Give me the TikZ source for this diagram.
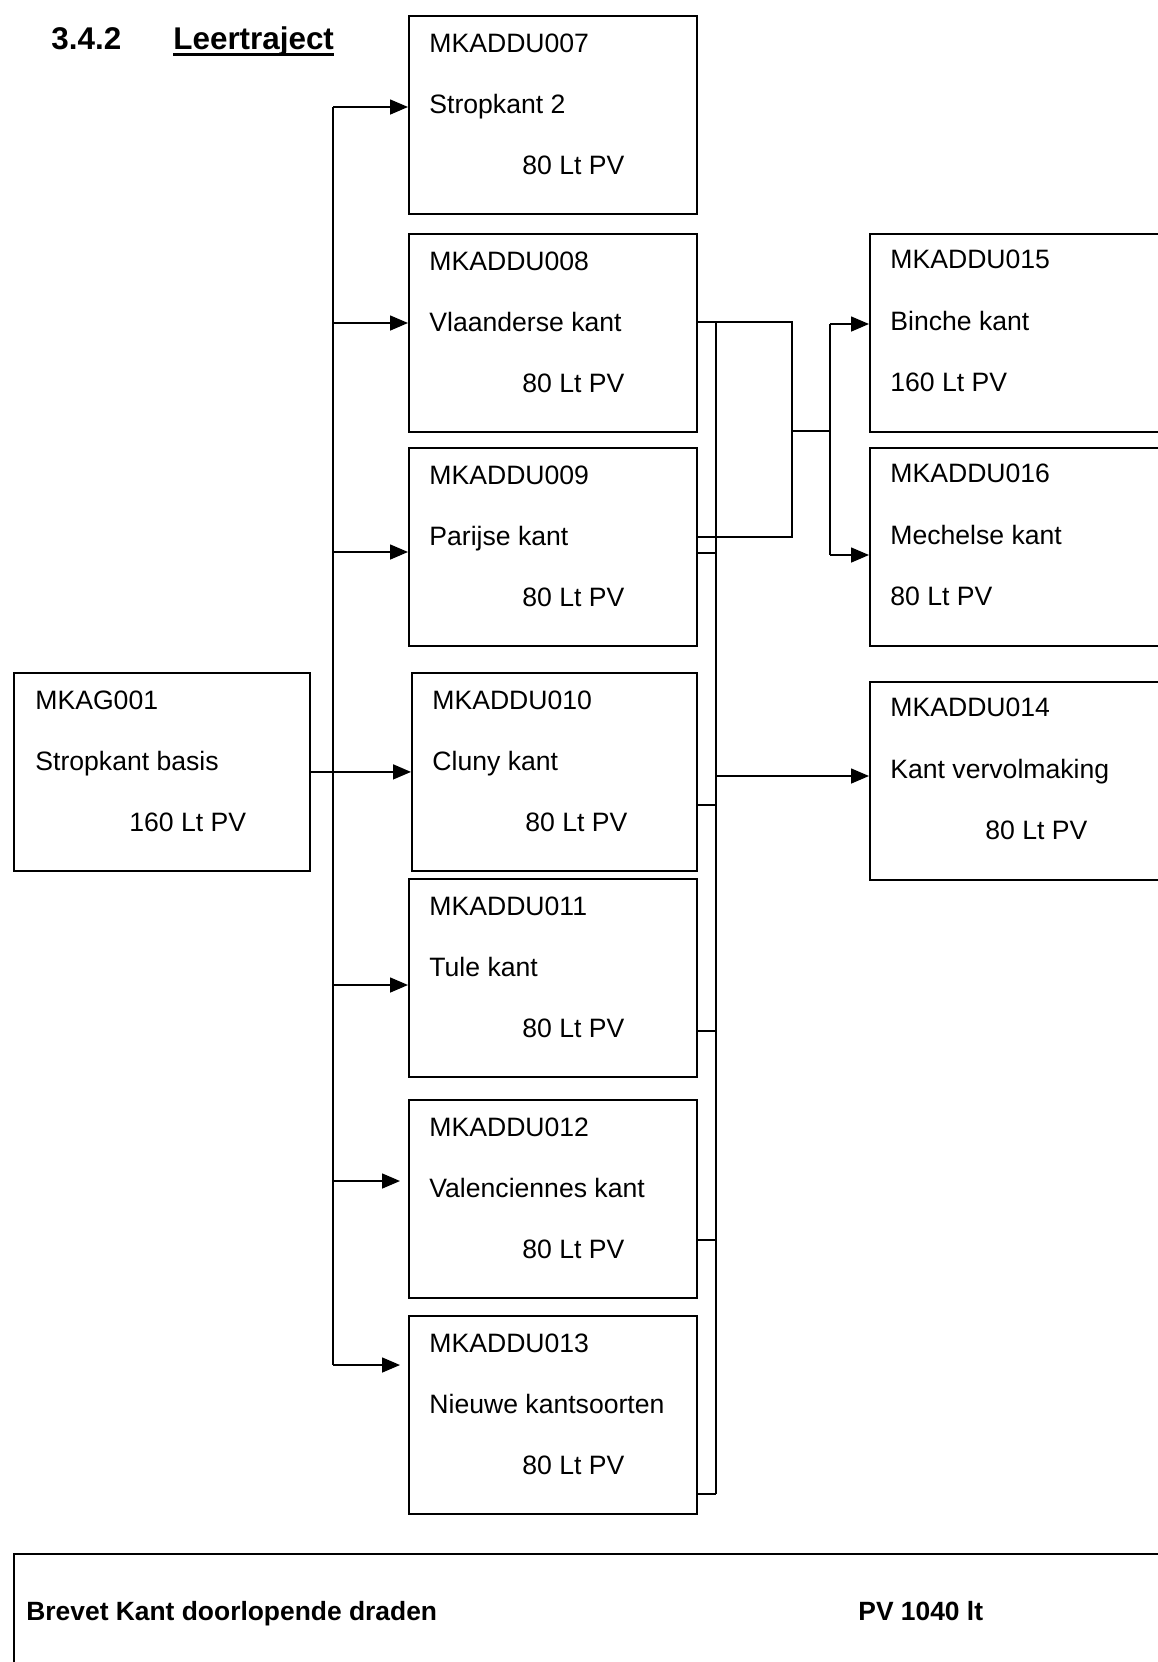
\documentclass[tikz,border=0pt]{standalone}
\usepackage{fontspec}
\setmainfont{Liberation Sans}
\usetikzlibrary{arrows.meta}

\begin{document}
\begin{tikzpicture}[x=0.5pt,y=-0.5pt,
    kbox/.style={draw,line width=0.9pt,anchor=north west,inner sep=0pt,
      minimum width=144pt,minimum height=99pt},
    txt/.style={anchor=base west,inner sep=0pt,font=\fontsize{13.3}{16}\selectfont},
    head/.style={anchor=base west,inner sep=0pt,font=\fontsize{15.7}{19}\selectfont\bfseries},
    btxt/.style={anchor=base west,inner sep=0pt,font=\fontsize{13.2}{16}\selectfont\bfseries},
    link/.style={line width=0.8pt},
    arr/.style={line width=0.8pt,-{Triangle[length=9pt,width=7.5pt]}}]
  \clip (0,0) rectangle (1158,1662);

  % title
  \node[head] (num) at (51,49) {3.4.2};
  \node[head] (lt) at (173,49) {Leertraject};
  \draw[line width=1.2pt] ([yshift=-2.8pt]lt.base west) -- ([yshift=-2.8pt]lt.base east);

  % boxes
  \node[kbox,minimum width=148pt] (g001) at (13,672) {};
  \node[kbox] (b007) at (408,15) {};
  \node[kbox] (b008) at (408,233) {};
  \node[kbox] (b009) at (408,447) {};
  \node[kbox,minimum width=142.5pt] (b010) at (411,672) {};
  \node[kbox] (b011) at (408,878) {};
  \node[kbox] (b012) at (408,1099) {};
  \node[kbox] (b013) at (408,1315) {};
  \node[kbox,minimum width=170pt] (b015) at (869,233) {};
  \node[kbox,minimum width=170pt] (b016) at (869,447) {};
  \node[kbox,minimum width=170pt] (b014) at (869,681) {};
  \node[kbox,minimum width=600pt,minimum height=80pt] (brevet) at (13,1553) {};

  % texts
  \node[txt] (cg001) at ([shift={(22,37)}]g001.north west) {MKAG001};
  \node[txt] (ng001) at ([shift={(22,98)}]g001.north west) {Stropkant basis};
  \node[txt] (pg001) at ([shift={(116,159)}]g001.north west) {160 Lt PV};

  \node[txt] (c007) at ([shift={(21,37)}]b007.north west) {MKADDU007};
  \node[txt] (n007) at ([shift={(21,98)}]b007.north west) {Stropkant 2};
  \node[txt] (p007) at ([shift={(114,159)}]b007.north west) {80 Lt PV};

  \node[txt] (c008) at ([shift={(21,37)}]b008.north west) {MKADDU008};
  \node[txt] (n008) at ([shift={(21,98)}]b008.north west) {Vlaanderse kant};
  \node[txt] (p008) at ([shift={(114,159)}]b008.north west) {80 Lt PV};

  \node[txt] (c009) at ([shift={(21,37)}]b009.north west) {MKADDU009};
  \node[txt] (n009) at ([shift={(21,98)}]b009.north west) {Parijse kant};
  \node[txt] (p009) at ([shift={(114,159)}]b009.north west) {80 Lt PV};

  \node[txt] (c010) at ([shift={(21,37)}]b010.north west) {MKADDU010};
  \node[txt] (n010) at ([shift={(21,98)}]b010.north west) {Cluny kant};
  \node[txt] (p010) at ([shift={(114,159)}]b010.north west) {80 Lt PV};

  \node[txt] (c011) at ([shift={(21,37)}]b011.north west) {MKADDU011};
  \node[txt] (n011) at ([shift={(21,98)}]b011.north west) {Tule kant};
  \node[txt] (p011) at ([shift={(114,159)}]b011.north west) {80 Lt PV};

  \node[txt] (c012) at ([shift={(21,37)}]b012.north west) {MKADDU012};
  \node[txt] (n012) at ([shift={(21,98)}]b012.north west) {Valenciennes kant};
  \node[txt] (p012) at ([shift={(114,159)}]b012.north west) {80 Lt PV};

  \node[txt] (c013) at ([shift={(21,37)}]b013.north west) {MKADDU013};
  \node[txt] (n013) at ([shift={(21,98)}]b013.north west) {Nieuwe kantsoorten};
  \node[txt] (p013) at ([shift={(114,159)}]b013.north west) {80 Lt PV};

  \node[txt] (c015) at ([shift={(21,35)}]b015.north west) {MKADDU015};
  \node[txt] (n015) at ([shift={(21,97)}]b015.north west) {Binche kant};
  \node[txt] (p015) at ([shift={(21,158)}]b015.north west) {160 Lt PV};

  \node[txt] (c016) at ([shift={(21,35)}]b016.north west) {MKADDU016};
  \node[txt] (n016) at ([shift={(21,97)}]b016.north west) {Mechelse kant};
  \node[txt] (p016) at ([shift={(21,158)}]b016.north west) {80 Lt PV};

  \node[txt] (c014) at ([shift={(21,35)}]b014.north west) {MKADDU014};
  \node[txt] (n014) at ([shift={(21,97)}]b014.north west) {Kant vervolmaking};
  \node[txt] (p014) at ([shift={(116,158)}]b014.north west) {80 Lt PV};

  \node[btxt] (bname) at ([shift={(13,67)}]brevet.north west) {Brevet Kant doorlopende draden};
  \node[btxt] (bpv) at ([shift={(845,67)}]brevet.north west) {PV 1040 lt};

  % left bus
  \coordinate (l007) at (333,107);
  \coordinate (l008) at (333,323);
  \coordinate (l009) at (333,552);
  \coordinate (l011) at (333,985);
  \coordinate (l012) at (333,1181);
  \coordinate (l013) at (333,1365);
  \draw[link] (l007) -- (l013);
  \draw[arr] (l007) -- (l007 -| b007.west);
  \draw[arr] (l008) -- (l008 -| b008.west);
  \draw[arr] (l009) -- (l009 -| b009.west);
  \draw[arr] (g001.east) -- (g001.east -| b010.west);
  \draw[arr] (l011) -- (l011 -| b011.west);
  \draw[arr,shorten >=4pt] (l012) -- (l012 -| b012.west);
  \draw[arr,shorten >=4pt] (l013) -- (l013 -| b013.west);

  % right side
  \coordinate (r1) at (792,322);
  \coordinate (r2) at (792,537);
  \coordinate (s) at (830,431);
  \coordinate (s1) at (830,324);
  \coordinate (s2) at (830,555);
  \draw[link] (b008.east |- r1) -- (r1) -- (r2) -- (b009.east |- r2);
  \draw[link] (r1 |- s) -- (s);
  \draw[link] (s1) -- (s2);
  \draw[arr] (s1) -- (s1 -| b015.west);
  \draw[arr] (s2) -- (s2 -| b016.west);

  \coordinate (t0) at (716,322);
  \coordinate (t009) at (716,553);
  \coordinate (t014) at (716,776);
  \coordinate (t010) at (716,805);
  \coordinate (t011) at (716,1031);
  \coordinate (t012) at (716,1240);
  \coordinate (t013) at (716,1494);
  \draw[link] (t0) -- (t013);
  \draw[link] (t009) -- (t009 -| b009.east);
  \draw[link] (t010) -- (t010 -| b010.east);
  \draw[link] (t011) -- (t011 -| b011.east);
  \draw[link] (t012) -- (t012 -| b012.east);
  \draw[link] (t013) -- (t013 -| b013.east);
  \draw[arr] (t014) -- (t014 -| b014.west);
\end{tikzpicture}
\end{document}
